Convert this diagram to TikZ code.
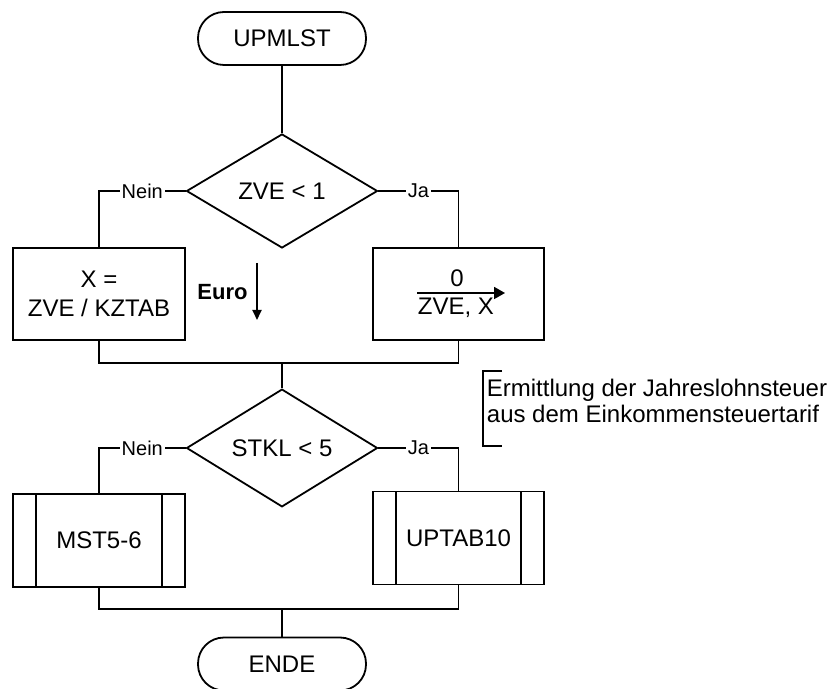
\documentclass[tikz,border=0pt]{standalone}
\usepackage{fontspec}
\setmainfont{Liberation Sans}
\usetikzlibrary{shapes.geometric,arrows.meta}
\tikzset{every path/.style={black,line width=0.9pt}, every node/.style={font=\fontsize{12}{14.4}\selectfont, inner sep=0pt},
  term/.style={draw, rounded corners=13pt, minimum width=84pt, minimum height=26.5pt},
  test/.style={draw, diamond, minimum width=95.5pt, minimum height=57pt},
  proc/.style={draw, minimum width=86pt, minimum height=46pt, align=center},
  sub/.style={proc, minimum height=46.5pt, path picture={
    \draw ([xshift=11.5pt]path picture bounding box.north west) -- ([xshift=11.5pt]path picture bounding box.south west)
          ([xshift=-11.5pt]path picture bounding box.north east) -- ([xshift=-11.5pt]path picture bounding box.south east);}},
  lbl/.style={fill=white, inner sep=1pt, font=\fontsize{10}{12}\selectfont}}

\begin{document}
\begin{tikzpicture}[x=0.5pt,y=-0.5pt]
       \useasboundingbox (0,0) rectangle (840,689);
       \begin{scope}
        \node[term] (start) at (282,38.5) {UPMLST};
        \node[test] (q1) at (282,191) {ZVE < 1};
        \node[proc] (xcalc) at (99,294) {X =\\ZVE / KZTAB};
        \node[proc, minimum width=85.5pt] (xnull) at (458.5,294) {};
        \node (zero) at (457,278) {0};
        \node (zvex) at (456,308) {ZVE, X};
        \coordinate (asl) at (417,293);
        \coordinate (asr) at (505,293);
        \draw[-{Triangle[length=5.5pt,width=6pt]}] (asl) -- (asr);
        \node[font=\bfseries\fontsize{11}{13}\selectfont] (euro) at (222.5,292) {Euro};
        \coordinate (eut) at (257,263);
        \coordinate (eub) at (257,320);
        \draw[-{Triangle[length=5pt,width=4.5pt]}] (eut) -- (eub);
        \draw (start) -- (q1);
        \draw (q1.west) -| node[lbl, pos=0.25] {Nein} (xcalc.north);
        \draw (q1.east) -| node[lbl, pos=0.25] {Ja} (xnull.north);
        \coordinate (m1) at (282,363);
        \draw (xcalc.south) |- (m1) -| (xnull.south);
       \end{scope}
       \begin{scope}
        \node[test] (q2) at (282,448) {STKL < 5};
        \node[sub] (mst) at (99,540.5) {MST5-6};
        \node[sub, minimum width=85.5pt] (uptab) at (458.5,538) {UPTAB10};
        \node[term] (ende) at (282,664) {ENDE};
        \draw (m1) -- (q2.north);
        \draw (q2.west) -| node[lbl, pos=0.25] {Nein} (mst.north);
        \draw (q2.east) -| node[lbl, pos=0.25] {Ja} (uptab.north);
        \coordinate (m2) at (282,609);
        \draw (mst.south) |- (m2) -| (uptab.south);
        \draw (m2) -- (ende.north);
       \end{scope}
       \begin{scope}
        \node[anchor=west, align=left, font=\fontsize{12}{13}\selectfont] (note) at (486,401)
          {Ermittlung der Jahreslohnsteuer\\aus dem Einkommensteuertarif};
        \coordinate (bt) at (502,371);
        \coordinate (bb) at (502,446);
        \draw (bt) -| (483,408.5) |- (bb);
       \end{scope}
      \end{tikzpicture}
\end{document}
